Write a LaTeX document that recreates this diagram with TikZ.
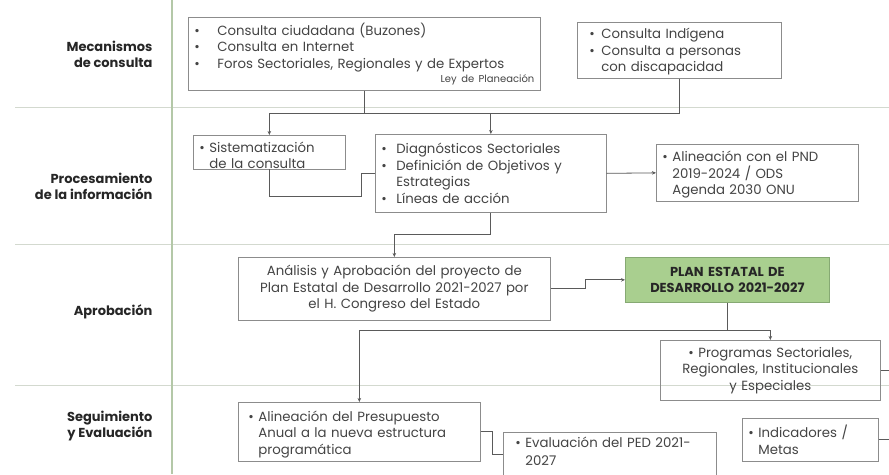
\documentclass[tikz,border=0pt]{standalone}
\usepackage{fontspec}
\setmainfont{Poppins}
\usetikzlibrary{arrows.meta,calc}
\definecolor{txt}{HTML}{444444}
\definecolor{lbl}{HTML}{262626}
\definecolor{boxc}{HTML}{8C8C8C}
\definecolor{conn}{HTML}{5A5A5A}
\definecolor{sep}{HTML}{D3D9CF}
\definecolor{vline}{HTML}{B4C8A8}
\definecolor{gfill}{HTML}{A9CF8F}
\definecolor{gdraw}{HTML}{86A973}
\newcommand{\bulit}[1]{\makebox[#1][l]{\textbullet}}
\newcommand{\dnstrut}[1]{\rule{0pt}{#1}}
\newcommand{\upstrut}[1]{\rule[-#1]{0pt}{#1}}
\tikzset{
  box/.style={draw=boxc, line width=0.7pt, anchor=north west, inner xsep=6pt, inner ysep=0pt,
    font=\fontsize{13.3}{16.5}\selectfont, text=txt, align=left},
  rowlbl/.style={anchor=east, align=right, text=lbl, font=\fontsize{13}{16}\selectfont\bfseries},
  line/.style={draw=conn, line width=0.8pt},
  arr/.style={line, -{Stealth[length=4pt,width=3.5pt]}},
}
\begin{document}
\begin{tikzpicture}[x=1pt,y=-1pt]
\useasboundingbox (0,0) rectangle (889,474);
\clip (0,0) rectangle (889,474);
\fill[white] (0,0) rectangle (889,474);
% separators
\draw[sep, line width=1pt] (15,107) -- (889,107);
\draw[sep, line width=1pt] (15,244) -- (889,244);
\draw[sep, line width=1pt] (15,385) -- (889,385);
\draw[vline, line width=1.8pt] (172,0) -- (172,474);
% row labels
\node[rowlbl] (r1) at (156,54) {Mecanismos\\de consulta};
\node[rowlbl] (r2) at (156,186) {Procesamiento\\de la información};
\node[rowlbl] (r3) at (156,312) {Aprobación};
\node[rowlbl] (r4) at (156,426) {Seguimiento\\y Evaluación};
% boxes
\node[box, minimum width=352, minimum height=73, text width=340] (A) at (188,17)
 {\bulit{23pt}Consulta ciudadana (Buzones)\\
  \bulit{23pt}Consulta en Internet\\
  \bulit{23pt}Foros Sectoriales, Regionales y de Expertos\\[-2pt]
  \hfill{\fontsize{10}{11}\selectfont Ley de Planeación}};
\node[box, minimum width=204, minimum height=56, text width=192] (B) at (577,22)
 {\dnstrut{13pt}\hspace*{6pt}\bulit{12pt}Consulta Indígena\\
  \hspace*{6pt}\bulit{12pt}Consulta a personas\\
  \hspace*{18pt}con discapacidad};
\node[box, minimum width=152, minimum height=33, text width=140] (C) at (193,135)
 {\dnstrut{17pt}\bulit{10pt}Sistematización\\
  \hspace*{10pt}de la consulta};
\node[box, minimum width=231, minimum height=78, text width=219] (D) at (375,134)
 {\bulit{15pt}Diagnósticos Sectoriales\\
  \bulit{15pt}Definición de Objetivos y\\
  \hspace*{15pt}Estrategias\\
  \bulit{15pt}Líneas de acción};
\node[box, minimum width=202, minimum height=57, text width=190] (E) at (656,144)
 {\dnstrut{14pt}\bulit{10pt}Alineación con el PND\\
  \hspace*{10pt}2019-2024 / ODS\\
  \hspace*{10pt}Agenda 2030 ONU};
\node[box, minimum width=312, minimum height=63, text width=306, inner xsep=3pt, align=center] (F) at (238,257)
 {Análisis y Aprobación del proyecto de\\
  Plan Estatal de Desarrollo 2021-2027 por\\
  el H. Congreso del Estado};
\node[box, draw=gdraw, fill=gfill, minimum width=204, minimum height=45, text width=196, inner xsep=4pt, align=center,
  font=\fontsize{13}{16.5}\selectfont\bfseries, text=lbl] (G) at (625,257)
 {PLAN ESTATAL DE\\DESARROLLO 2021-2027};
\node[box, minimum width=220, minimum height=60, text width=212, inner xsep=4pt, align=center] (H) at (660,340)
 {\textbullet{} Programas Sectoriales,\\
  Regionales, Institucionales\\
  y Especiales};
\node[box, minimum width=240, minimum height=59, text width=222, inner xsep=10pt] (I) at (238,402)
 {\dnstrut{15pt}\bulit{10pt}Alineación del Presupuesto\\
  \hspace*{10pt}Anual a la nueva estructura\\
  \hspace*{10pt}programática};
\node[box, minimum width=213, minimum height=52, text width=189, inner xsep=12pt] (J) at (503,432)
 {\bulit{10pt}Evaluación del PED 2021-\\[1pt]
  \hspace*{10pt}2027\upstrut{14pt}};
\node[box, minimum width=136, minimum height=43, text width=124] (K) at (742,418)
 {\bulit{10pt}Indicadores /\\
  \hspace*{10pt}Metas};
% connectors
\coordinate (bus1) at (0,113);
\coordinate (bus2) at (0,330);
\coordinate (edge) at (895,0);
\coordinate (cd) at (361,196);
\draw[line] (A.south) -- (A.south |- bus1);
\draw[arr] (B.south) |- (C.north |- bus1) -- (C.north);
\draw[arr] (D.north |- bus1) -- (D.north);
\draw[line] (C.south) |- (cd) |- (D.west);
\draw[arr] (D.east) -- (E.west);
\draw[arr] (D.south) -- ++(0,22) -| (F.north);
\draw[arr] (F.east) -- ++(35,0) |- (G.west);
\draw[line] (G.south) -- (G.south |- bus2);
\draw[arr] (H.north |- bus2) -| (I.north);
\draw[arr] (I.north |- bus2) -| (H.north);
\draw[line] (H.east) -- (H.east -| edge);
\draw[line] (I.east) -- ++(12,0) |- ([yshift=4pt]J.west);
\draw[line] (K.east) -- (K.east -| edge);
\end{tikzpicture}
\end{document}
